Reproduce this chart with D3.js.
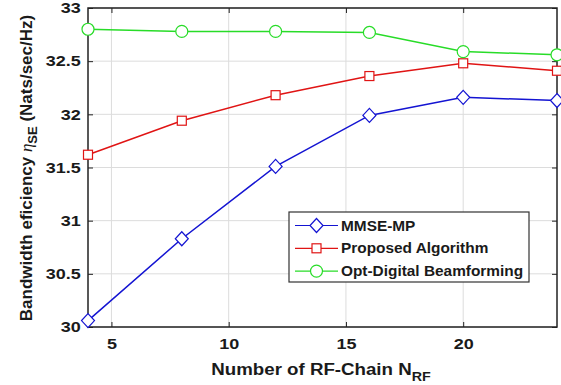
<!DOCTYPE html>
<html>
<head>
<meta charset="utf-8">
<script src="https://cdn.jsdelivr.net/npm/d3@7"></script>
<style>
  body { margin: 0; background: #fff; }
  text { font-family: "Liberation Sans", Arial, sans-serif; font-weight: bold; fill: #1a1a1a; }
</style>
</head>
<body>
<div id="chart"></div>
<script>
// data
const nRF = [4, 8, 12, 16, 20, 24];
const mmseMP = [30.06, 30.83, 31.51, 31.99, 32.16, 32.13];
const proposed = [31.62, 31.94, 32.18, 32.36, 32.48, 32.41];
const optDigital = [32.80, 32.78, 32.78, 32.77, 32.59, 32.56];
const xTicks = [5, 10, 15, 20];
const yTicks = [30, 30.5, 31, 31.5, 32, 32.5, 33];
const seriesNames = ["MMSE-MP", "Proposed Algorithm", "Opt-Digital Beamforming"];

//Setup Dimensions
const width = 561;
const height = 385;
const margin = { top: 8, right: 4, bottom: 58, left: 88 };
const innerW = width - margin.left - margin.right;
const innerH = height - margin.top - margin.bottom;
const stretch = 1.2; // picture is a bit wide

const svg = d3.select("#chart")
    .append("svg")
    .attr("width", width)
    .attr("height", height);

const g = svg.append("g")
    .attr("transform", `translate(${margin.left}, ${margin.top})`);

const x = d3.scaleLinear().domain([4, 24]).range([0, innerW]);
const y = d3.scaleLinear().domain([30, 33]).range([innerH, 0]);

//Grid
g.append("g").selectAll("line")
    .data(xTicks)
    .enter().append("line")
    .attr("x1", d => x(d)).attr("x2", d => x(d))
    .attr("y1", 0).attr("y2", innerH)
    .attr("stroke", "#dcdcdc").attr("stroke-width", 1);
g.append("g").selectAll("line")
    .data(yTicks)
    .enter().append("line")
    .attr("x1", 0).attr("x2", innerW)
    .attr("y1", d => y(d)).attr("y2", d => y(d))
    .attr("stroke", "#dcdcdc").attr("stroke-width", 1);

//Axes, ticks pointing in like matlab
const xAxis = g.append("g")
    .attr("transform", `translate(0, ${innerH})`)
    .call(d3.axisBottom(x).tickValues(xTicks).tickSizeInner(-5).tickSizeOuter(0).tickPadding(11));
const yAxis = g.append("g")
    .call(d3.axisLeft(y).tickValues(yTicks).tickSizeInner(-5).tickSizeOuter(0).tickPadding(6).tickFormat(d => String(d)));
g.append("g")
    .call(d3.axisTop(x).tickValues(xTicks).tickSizeInner(-5).tickSizeOuter(0).tickFormat(""));
g.append("g")
    .attr("transform", `translate(${innerW}, 0)`)
    .call(d3.axisRight(y).tickValues(yTicks).tickSizeInner(-5).tickSizeOuter(0).tickFormat(""));

g.selectAll(".domain").remove();
g.selectAll(".tick line").attr("stroke", "#222");
[xAxis, yAxis].forEach(a => a.selectAll(".tick text")
    .attr("fill", "#1a1a1a")
    .style("font-size", "15px")
    .style("font-family", "'Liberation Sans', Arial, sans-serif")
    .style("font-weight", "bold")
    .attr("transform", `scale(${stretch},1)`));

g.append("rect")
    .attr("width", innerW).attr("height", innerH)
    .attr("fill", "none").attr("stroke", "#222").attr("stroke-width", 1.5);

//Series
const series = [
    { name: seriesNames[0], values: mmseMP, color: "#1414d2", marker: "diamond" },
    { name: seriesNames[1], values: proposed, color: "#e01414", marker: "square" },
    { name: seriesNames[2], values: optDigital, color: "#28dc28", marker: "circle" }
];

function drawMarker(sel, marker, color) {
    if (marker === "diamond") {
        sel.append("path").attr("d", "M0,-7L6.5,0L0,7L-6.5,0Z");
    } else if (marker === "square") {
        sel.append("rect").attr("x", -4.5).attr("y", -4.5).attr("width", 9).attr("height", 9);
    } else {
        sel.append("circle").attr("r", 6);
    }
    sel.selectAll("path, rect, circle")
        .attr("fill", "#fff").attr("stroke", color).attr("stroke-width", 1.2);
}

const line = d3.line()
    .x((d, i) => x(nRF[i]))
    .y(d => y(d));

series.forEach(s => {
    g.append("path")
        .datum(s.values)
        .attr("d", line)
        .attr("fill", "none")
        .attr("stroke", s.color)
        .attr("stroke-width", 1.5);
    g.append("g").selectAll("g")
        .data(s.values)
        .enter().append("g")
        .attr("transform", (d, i) => `translate(${x(nRF[i])}, ${y(d)})`)
        .each(function () { drawMarker(d3.select(this), s.marker, s.color); });
});

//Legend
const legend = svg.append("g").attr("transform", "translate(289, 212)");
legend.append("rect")
    .attr("width", 240).attr("height", 70)
    .attr("fill", "#fff").attr("stroke", "#333").attr("stroke-width", 1.2);
series.forEach((s, i) => {
    const row = legend.append("g").attr("transform", `translate(0, ${13.5 + i * 22.8})`);
    row.append("line")
        .attr("x1", 6).attr("x2", 49)
        .attr("stroke", s.color).attr("stroke-width", 1.2);
    const m = row.append("g").attr("transform", "translate(27.5, 0)");
    drawMarker(m, s.marker, s.color);
    row.append("g").attr("transform", "translate(52, 5)")
        .append("text")
        .attr("transform", "scale(1.1,1)")
        .style("font-size", "14px")
        .text(s.name);
});

//Axis labels
const xl = svg.append("g")
    .attr("transform", `translate(321, 375) scale(1.1,1)`)
    .append("text")
    .attr("text-anchor", "middle")
    .style("font-size", "17px");
xl.append("tspan").text("Number of RF-Chain N");
xl.append("tspan").attr("dy", 6).style("font-size", "13px").text("RF");

const yl = svg.append("text")
    .attr("text-anchor", "middle")
    .attr("transform", "translate(32, 168) rotate(-90)")
    .style("font-size", "17px");
yl.append("tspan").text("Bandwidth eficiency ");
yl.append("tspan")
    .style("font-family", "'Liberation Serif', 'DejaVu Serif', serif")
    .style("font-style", "italic")
    .style("font-weight", "normal")
    .text("η");
yl.append("tspan").attr("dy", 5).style("font-size", "13px").text("SE");
yl.append("tspan").attr("dy", -5).text(" (Nats/sec/Hz)");
</script>
</body>
</html>
